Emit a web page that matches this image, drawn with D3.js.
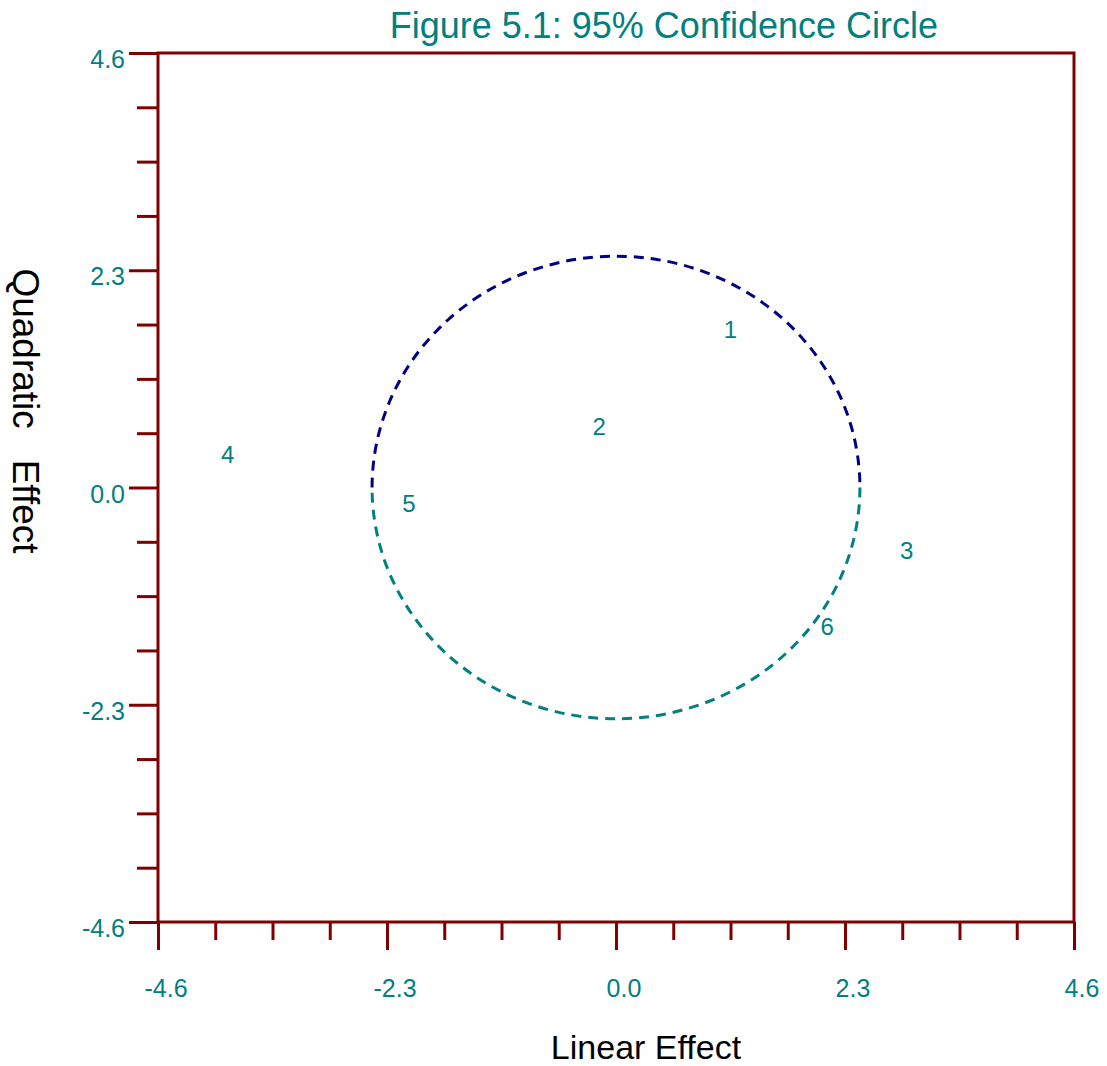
<!DOCTYPE html>
<html>
<head>
<meta charset="utf-8">
<script src="https://cdn.jsdelivr.net/npm/d3@7"></script>
<style>
  body { margin: 0; background: #ffffff; }
  text { font-family: "Liberation Sans", Arial, sans-serif; }
</style>
</head>
<body>
<div id="vis"></div>
<script>
// Data
const POINT_LABELS = ["1", "2", "3", "4", "5", "6"];
const POINT_X = [1.15, -0.17, 2.92, -3.90, -2.08, 2.12];
const POINT_Y = [1.67, 0.64, -0.67, 0.35, -0.175, -1.47];

// 95% confidence circle: centre and radius
const CIRCLE_CENTER = [0, 0];
const CIRCLE_RADIUS = 2.45;

// Axis ticks
const MAJOR_TICKS = [-4.6, -2.3, 0, 2.3, 4.6];
const MAJOR_LABELS = ["-4.6", "-2.3", "0.0", "2.3", "4.6"];
const MINOR_TICKS = [-4.025, -3.45, -2.875, -1.725, -1.15, -0.575,
                     0.575, 1.15, 1.725, 2.875, 3.45, 4.025];

// Frame
const FRAME_WIDTH = 1107;
const FRAME_HEIGHT = 1066;
const PLOT = {left: 158, right: 1074, top: 53, bottom: 922};

const AXIS_COLOR = "#800000";
const TEXT_COLOR = "#008080";

const svg = d3.select("#vis")
              .append("svg")
                .attr("width", FRAME_WIDTH)
                .attr("height", FRAME_HEIGHT);

// Scales
const X_SCALE = d3.scaleLinear()
                  .domain([-4.6, 4.6])
                  .range([PLOT.left, PLOT.right]);

const Y_SCALE = d3.scaleLinear()
                  .domain([-4.6, 4.6])
                  .range([PLOT.bottom, PLOT.top]);

// Plot box
svg.append("rect")
   .attr("x", PLOT.left)
   .attr("y", PLOT.top)
   .attr("width", PLOT.right - PLOT.left)
   .attr("height", PLOT.bottom - PLOT.top)
   .attr("fill", "none")
   .attr("stroke", AXIS_COLOR)
   .attr("stroke-width", 3);

// helper to style an axis group
function styleAxis(g) {
  g.select(".domain").remove();
  g.selectAll(".tick line")
   .attr("stroke", AXIS_COLOR)
   .attr("stroke-width", 3);
}

// Bottom axis: minor then major ticks
svg.append("g")
   .attr("transform", "translate(0," + PLOT.bottom + ")")
   .call(d3.axisBottom(X_SCALE).tickValues(MINOR_TICKS).tickSize(18).tickFormat(""))
   .call(styleAxis);

svg.append("g")
   .attr("transform", "translate(0," + PLOT.bottom + ")")
   .call(d3.axisBottom(X_SCALE).tickValues(MAJOR_TICKS).tickSize(28).tickFormat(""))
   .call(styleAxis);

// Left axis: minor then major ticks
svg.append("g")
   .attr("transform", "translate(" + PLOT.left + ",0)")
   .call(d3.axisLeft(Y_SCALE).tickValues(MINOR_TICKS).tickSize(21).tickFormat(""))
   .call(styleAxis);

svg.append("g")
   .attr("transform", "translate(" + PLOT.left + ",0)")
   .call(d3.axisLeft(Y_SCALE).tickValues(MAJOR_TICKS).tickSize(29).tickFormat(""))
   .call(styleAxis);

// Tick labels
svg.selectAll(".xlabel")
   .data(MAJOR_TICKS)
   .enter()
   .append("text")
     .attr("class", "xlabel")
     .attr("x", (d) => X_SCALE(d) + 8)
     .attr("y", 997)
     .attr("text-anchor", "middle")
     .attr("font-size", "25px")
     .attr("fill", TEXT_COLOR)
     .text((d, i) => MAJOR_LABELS[i]);

svg.selectAll(".ylabel")
   .data(MAJOR_TICKS)
   .enter()
   .append("text")
     .attr("class", "ylabel")
     .attr("x", 125)
     .attr("y", (d) => Y_SCALE(d) + 15)
     .attr("text-anchor", "end")
     .attr("font-size", "25px")
     .attr("fill", TEXT_COLOR)
     .text((d, i) => MAJOR_LABELS[i]);

// Confidence circle, drawn as two half ellipses (upper navy, lower teal)
const cx = X_SCALE(CIRCLE_CENTER[0]);
const cy = Y_SCALE(CIRCLE_CENTER[1]);
const rx = X_SCALE(CIRCLE_CENTER[0] + CIRCLE_RADIUS) - cx;
const ry = cy - Y_SCALE(CIRCLE_CENTER[1] + CIRCLE_RADIUS);

svg.append("path")
   .attr("d", "M" + (cx - rx) + "," + cy + " A" + rx + "," + ry + " 0 0 1 " + (cx + rx) + "," + cy)
   .attr("fill", "none")
   .attr("stroke", "#000080")
   .attr("stroke-width", 3)
   .attr("stroke-dasharray", "10,7");

svg.append("path")
   .attr("d", "M" + (cx + rx) + "," + cy + " A" + rx + "," + ry + " 0 0 1 " + (cx - rx) + "," + cy)
   .attr("fill", "none")
   .attr("stroke", TEXT_COLOR)
   .attr("stroke-width", 3)
   .attr("stroke-dasharray", "10,7");

// Point labels
svg.selectAll(".pt")
   .data(POINT_LABELS)
   .enter()
   .append("text")
     .attr("class", "pt")
     .attr("x", (d, i) => X_SCALE(POINT_X[i]))
     .attr("y", (d, i) => Y_SCALE(POINT_Y[i]))
     .attr("dy", "0.35em")
     .attr("text-anchor", "middle")
     .attr("font-size", "24px")
     .attr("fill", TEXT_COLOR)
     .text((d) => d);

// Title
svg.append("text")
   .attr("x", 938)
   .attr("y", 38)
   .attr("text-anchor", "end")
   .attr("font-size", "36px")
   .attr("fill", TEXT_COLOR)
   .text("Figure 5.1: 95% Confidence Circle");

// Axis titles
svg.append("text")
   .attr("x", 646)
   .attr("y", 1059)
   .attr("text-anchor", "middle")
   .attr("font-size", "34px")
   .attr("fill", "#000000")
   .text("Linear Effect");

svg.append("text")
   .attr("transform", "translate(13,411) rotate(90)")
   .attr("text-anchor", "middle")
   .attr("font-size", "37px")
   .attr("fill", "#000000")
   .style("white-space", "pre")
   .text("Quadratic   Effect");
</script>
</body>
</html>
